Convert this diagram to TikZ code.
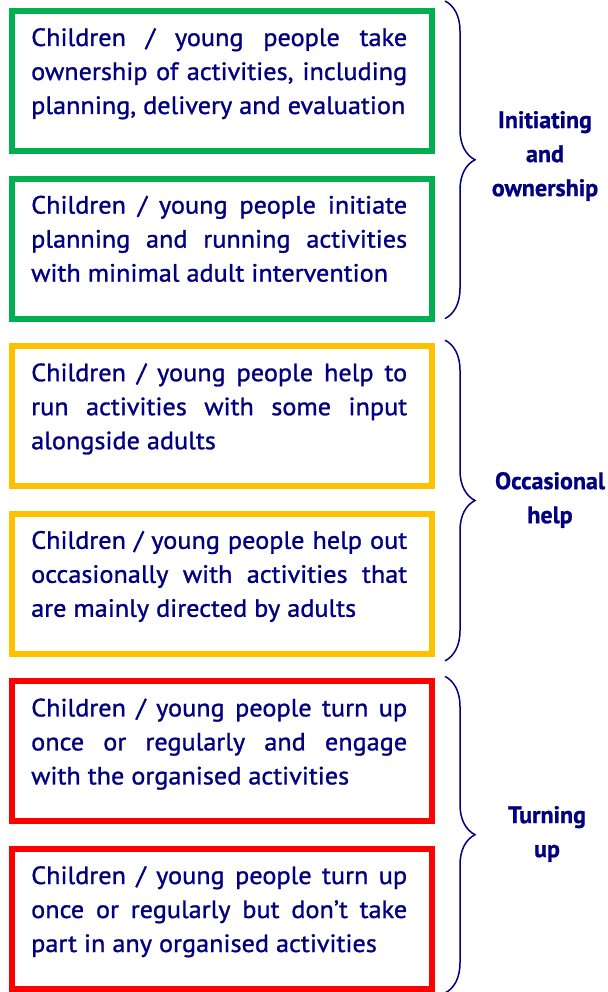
\documentclass[tikz,border=0pt]{standalone}
\usepackage{fontspec}
\setmainfont{PT Sans}
\newfontfamily\boxfont[FakeStretch=1.05,FakeBold=1.1]{PT Sans}
\newfontfamily\labfont[FakeStretch=1.0,FakeBold=0.8]{PT Sans}
\usetikzlibrary{decorations.pathreplacing}
\definecolor{navy}{HTML}{000080}
\definecolor{lvlgreen}{HTML}{00B050}
\definecolor{lvlyellow}{HTML}{FFC000}
\definecolor{lvlred}{HTML}{FF0000}
\begin{document}
\begin{tikzpicture}[x=1pt,y=-1pt,
  lvl/.style={draw=#1,line width=6pt,minimum width=420pt,minimum height=140pt,inner sep=0pt},
  lvltext/.style={anchor=north west,text width=376pt,align=justify,inner sep=0pt,text=navy,
    font=\boxfont\fontsize{25}{34}\selectfont,execute at begin node={\hyphenpenalty10000 }},
  grp/.style={decorate,decoration={brace,amplitude=30pt},draw=navy,line width=1.5pt},
  grplabel/.style={align=center,inner sep=0pt,text=navy,font=\labfont\bfseries\fontsize{24}{34}\selectfont}]
\useasboundingbox (0,0) rectangle (607,992);

% the six levels
\node[lvl=lvlgreen]  (b1) at (221.5,81) {};
\node[lvl=lvlgreen]  (b2) at (221.5,248.6) {};
\node[lvl=lvlyellow] (b3) at (221.5,416.2) {};
\node[lvl=lvlyellow] (b4) at (221.5,583.8) {};
\node[lvl=lvlred]    (b5) at (221.5,751.4) {};
\node[lvl=lvlred]    (b6) at (221.5,919) {};

\node[lvltext] (t1) at ([xshift=22.5pt,yshift=-20pt]b1.north west)
  {Children / young people take\linebreak ownership of activities, including\linebreak planning, delivery and evaluation};
\node[lvltext] (t2) at ([xshift=22.5pt,yshift=-20pt]b2.north west)
  {Children / young people initiate\linebreak planning and running activities\linebreak with minimal adult intervention};
\node[lvltext] (t3) at ([xshift=22.5pt,yshift=-20pt]b3.north west)
  {Children / young people help to\linebreak run activities with some input\linebreak alongside adults};
\node[lvltext] (t4) at ([xshift=22.5pt,yshift=-20pt]b4.north west)
  {Children / young people help out\linebreak occasionally with activities that\linebreak are mainly directed by adults};
\node[lvltext] (t5) at ([xshift=22.5pt,yshift=-20pt]b5.north west)
  {Children / young people turn up\linebreak once or regularly and engage\linebreak with the organised activities};
\node[lvltext] (t6) at ([xshift=22.5pt,yshift=-20pt]b6.north west)
  {Children / young people turn up\linebreak once or regularly but don’t take\linebreak part in any organised activities};

% braces and group labels
\draw[grp] ([xshift=10.5pt,yshift=7pt]b1.north east) -- ([xshift=10.5pt,yshift=3pt]b2.south east);
\draw[grp] ([xshift=10.5pt,yshift=3pt]b3.north east) -- ([xshift=10.5pt,yshift=-4pt]b4.south east);
\draw[grp] ([xshift=10.5pt,yshift=2pt]b5.north east) -- ([xshift=10.5pt,yshift=-1pt]b6.south east);

\node[grplabel] (g1) at (545,156) {Initiating\\and\\ownership};
\node[grplabel] (g2) at (550,500) {Occasional\\help};
\node[grplabel] (g3) at (547,834) {Turning\\up};
\end{tikzpicture}
\end{document}
